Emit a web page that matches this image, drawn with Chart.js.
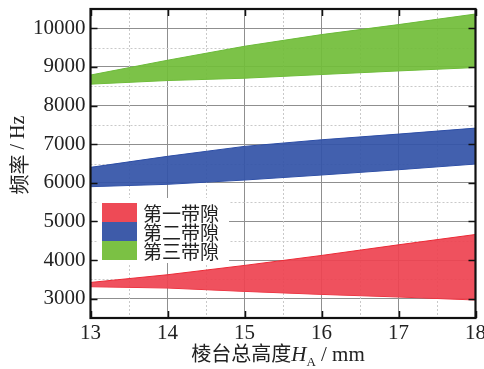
<!DOCTYPE html>
<html>
<head>
<meta charset="utf-8">
<script src="https://cdn.jsdelivr.net/npm/chart.js@4/dist/chart.umd.min.js"></script>
<style>
  html, body { margin: 0; padding: 0; background: #fff; }
  canvas { display: block; }
</style>
</head>
<body>
<canvas id="c" width="484" height="369"></canvas>
<script>
// Frustum total height H_A (mm)
const heights = [13, 14, 15, 16, 17, 18];
// Band gap edges (Hz): upper / lower bound of each gap
const gap1Upper = [3420, 3620, 3861, 4119, 4395, 4662];
const gap1Lower = [3310, 3276, 3189, 3111, 3044, 2966];
const gap2Upper = [6400, 6685, 6943, 7114, 7261, 7416];
const gap2Lower = [5900, 5961, 6072, 6202, 6339, 6486];
const gap3Upper = [8790, 9173, 9535, 9837, 10096, 10370];
const gap3Lower = [8555, 8648, 8708, 8804, 8897, 8984];
const gapNames = ['第一带隙', '第二带隙', '第三带隙'];

const xTicks = [13, 14, 15, 16, 17, 18];
const yTicks = [3000, 4000, 5000, 6000, 7000, 8000, 9000, 10000];
const xMinor = [13.5, 14.5, 15.5, 16.5, 17.5];
const yMinor = [3500, 4500, 5500, 6500, 7500, 8500, 9500];

const fills = ['rgba(238,68,82,0.93)', 'rgba(52,84,168,0.93)', 'rgba(114,189,58,0.93)'];
const edges = ['#ec2a36', '#2d4ea6', '#6cbb3a'];
const keyColors = ['#ee4a56', '#3e5ba9', '#7bc144'];

const SERIF = '"Liberation Serif", "Times New Roman", serif';
const CJK = '"Noto Sans CJK SC", sans-serif';

const toPts = arr => heights.map((h, i) => ({ x: h, y: arr[i] }));
const bands = [[gap1Upper, gap1Lower], [gap2Upper, gap2Lower], [gap3Upper, gap3Lower]];
const datasets = [];
bands.forEach(([up, lo], i) => {
  datasets.push({ label: gapNames[i], data: toPts(up), fill: '+1', backgroundColor: fills[i],
    borderColor: edges[i], borderWidth: 1, pointRadius: 0, tension: 0 });
  datasets.push({ label: gapNames[i] + '_lower', data: toPts(lo), fill: false,
    borderColor: edges[i], borderWidth: 1, pointRadius: 0, tension: 0 });
});

const noPad = s => { s.paddingTop = 0; s.paddingBottom = 0; s.paddingLeft = 0; s.paddingRight = 0; };

const decor = {
  id: 'decor',
  beforeDatasetsDraw(chart) {
    const { ctx, chartArea: a, scales: { x, y } } = chart;
    ctx.save();
    ctx.strokeStyle = '#c9c9c9';
    ctx.lineWidth = 1;
    ctx.setLineDash([2, 2]);
    xMinor.forEach(v => {
      const px = Math.round(x.getPixelForValue(v)) + 0.5;
      ctx.beginPath(); ctx.moveTo(px, a.top); ctx.lineTo(px, a.bottom); ctx.stroke();
    });
    yMinor.forEach(v => {
      const py = Math.round(y.getPixelForValue(v)) + 0.5;
      ctx.beginPath(); ctx.moveTo(a.left, py); ctx.lineTo(a.right, py); ctx.stroke();
    });
    ctx.restore();
  },
  afterDatasetsDraw(chart) {
    const { ctx } = chart;
    // key box inside the plot, lower left
    ctx.save();
    ctx.fillStyle = '#fff';
    ctx.fillRect(98, 198, 131, 65);
    const rowH = 19, top = 203;
    gapNames.forEach((name, i) => {
      const yTop = top + i * rowH;
      ctx.fillStyle = keyColors[i];
      ctx.fillRect(102, yTop, 35, rowH);
      ctx.fillStyle = '#222';
      ctx.font = '19px ' + CJK;
      ctx.textBaseline = 'middle';
      ctx.textAlign = 'left';
      ctx.fillText(name, 143, yTop + rowH / 2 + 1);
    });
    ctx.restore();
  },
  afterDraw(chart) {
    const { ctx, chartArea: a, scales: { x, y } } = chart;
    ctx.save();
    // inward ticks on all four sides
    ctx.strokeStyle = '#111';
    ctx.lineWidth = 1.5;
    const tl = 7;
    yTicks.forEach(v => {
      const py = Math.round(y.getPixelForValue(v)) + 0.5;
      ctx.beginPath(); ctx.moveTo(a.left, py); ctx.lineTo(a.left + tl, py); ctx.stroke();
      ctx.beginPath(); ctx.moveTo(a.right, py); ctx.lineTo(a.right - tl, py); ctx.stroke();
    });
    xTicks.forEach(v => {
      const px = Math.round(x.getPixelForValue(v)) + 0.5;
      ctx.beginPath(); ctx.moveTo(px, a.bottom); ctx.lineTo(px, a.bottom - tl); ctx.stroke();
      ctx.beginPath(); ctx.moveTo(px, a.top); ctx.lineTo(px, a.top + tl); ctx.stroke();
    });
    // box frame
    ctx.lineWidth = 2.2;
    ctx.strokeStyle = '#111';
    ctx.strokeRect(a.left, a.top, a.right - a.left, a.bottom - a.top);

    // y-axis title: 频率 / Hz
    ctx.fillStyle = '#222';
    ctx.textBaseline = 'middle';
    ctx.textAlign = 'left';
    const yParts = [['频率', '20px ' + CJK], [' / Hz', '20px ' + SERIF]];
    let w = 0;
    yParts.forEach(([t, f]) => { ctx.font = f; w += ctx.measureText(t).width; });
    ctx.translate(18, 155);
    ctx.rotate(-Math.PI / 2);
    let cx = -w / 2;
    yParts.forEach(([t, f]) => { ctx.font = f; ctx.fillText(t, cx, 1); cx += ctx.measureText(t).width; });
    ctx.setTransform(1, 0, 0, 1, 0, 0);

    // x-axis title: 棱台总高度H_A / mm
    const xParts = [
      ['棱台总高度', '20px ' + CJK, 0],
      ['H', 'italic 21px ' + SERIF, 0],
      ['A', '13px ' + SERIF, 5],
      [' / mm', '21px ' + SERIF, 0]
    ];
    ctx.textBaseline = 'alphabetic';
    w = 0;
    xParts.forEach(([t, f]) => { ctx.font = f; w += ctx.measureText(t).width; });
    cx = 278 - w / 2;
    xParts.forEach(([t, f, dy]) => {
      ctx.font = f; ctx.fillText(t, cx, 361 + dy); cx += ctx.measureText(t).width;
    });
    ctx.restore();
  }
};

new Chart(document.getElementById('c'), {
  type: 'line',
  data: { datasets },
  options: {
    responsive: false,
    devicePixelRatio: 1,
    animation: false,
    layout: { padding: { top: 9, right: 8.5, left: 0, bottom: 0 } },
    plugins: { legend: { display: false }, tooltip: { enabled: false } },
    scales: {
      x: {
        type: 'linear', min: 13, max: 18,
        afterBuildTicks: s => { s.ticks = xTicks.map(v => ({ value: v })); },
        afterFit: s => { s.height = 51; noPad(s); },
        ticks: { font: { family: SERIF, size: 21 }, color: '#222', padding: 3, maxRotation: 0,
          callback: v => String(v) },
        grid: { color: '#8f8f8f', lineWidth: 1, drawTicks: false },
        border: { display: false }
      },
      y: {
        type: 'linear', min: 2500, max: 10500,
        afterBuildTicks: s => { s.ticks = yTicks.map(v => ({ value: v })); },
        afterFit: s => { s.width = 90.5; noPad(s); },
        ticks: { font: { family: SERIF, size: 21 }, color: '#222', padding: 5,
          callback: v => String(v) },
        grid: { color: '#8f8f8f', lineWidth: 1, drawTicks: false },
        border: { display: false }
      }
    }
  },
  plugins: [decor]
});
</script>
</body>
</html>
